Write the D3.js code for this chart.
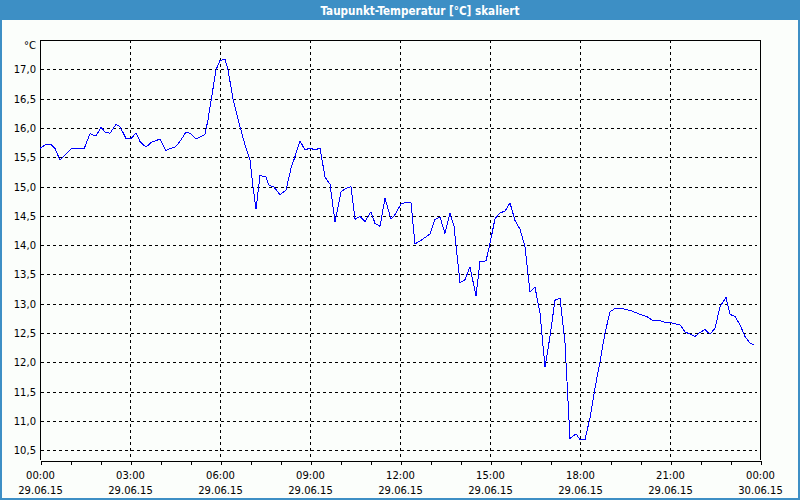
<!DOCTYPE html>
<html><head><meta charset="utf-8">
<script src="https://cdn.jsdelivr.net/npm/d3@7"></script>
<style>
html,body{margin:0;padding:0;background:#fbfefb;}
svg{display:block;}
</style></head>
<body>
<svg id="c" width="800" height="500"></svg>
<script>
const title = "Taupunkt-Temperatur [°C] skaliert";
const unitLabel = "°C";
// minutes after 29.06.15 00:00
const minutes = [0,12,22,30,40,50,62,70,88,100,112,122,130,140,152,160,172,182,192,200,212,222,240,252,260,270,280,292,300,312,330,336,352,360,370,376,386,400,410,420,426,432,440,452,458,468,480,492,502,510,520,530,540,550,560,570,580,590,602,610,622,630,640,650,662,670,680,690,702,710,722,732,742,750,760,770,780,790,800,810,820,828,840,850,860,872,880,892,900,910,920,930,940,950,960,970,980,990,1000,1010,1020,1030,1040,1050,1060,1072,1080,1090,1100,1110,1120,1130,1140,1150,1164,1182,1200,1214,1226,1238,1250,1264,1280,1290,1300,1310,1320,1330,1340,1350,1360,1372,1380,1390,1400,1410,1420,1428];
const values = [15.65,15.72,15.72,15.65,15.45,15.54,15.64,15.65,15.64,15.90,15.86,16.01,15.93,15.91,16.06,16.02,15.82,15.82,15.91,15.77,15.67,15.75,15.81,15.61,15.65,15.67,15.77,15.93,15.91,15.81,15.89,16.14,16.99,17.15,17.17,16.99,16.50,16.02,15.71,15.45,15.00,14.61,15.19,15.16,15.02,14.99,14.86,14.94,15.31,15.51,15.78,15.62,15.66,15.62,15.66,15.16,15.04,14.40,14.91,14.96,15.00,14.44,14.49,14.40,14.57,14.37,14.32,14.80,14.44,14.52,14.70,14.73,14.72,14.02,14.07,14.13,14.19,14.44,14.48,14.20,14.54,14.32,13.36,13.41,13.63,13.13,13.72,13.73,14.03,14.45,14.55,14.58,14.72,14.42,14.27,13.97,13.20,13.28,12.84,11.92,12.44,13.06,13.09,12.33,10.70,10.78,10.68,10.68,11.05,11.56,12.01,12.50,12.86,12.92,12.92,12.88,12.82,12.78,12.71,12.72,12.68,12.67,12.64,12.52,12.48,12.44,12.51,12.56,12.48,12.58,12.95,13.11,12.82,12.78,12.64,12.44,12.33,12.30];
const yTicks = [10.5,11.0,11.5,12.0,12.5,13.0,13.5,14.0,14.5,15.0,15.5,16.0,16.5,17.0];
const yDomain = [10.333, 17.5];

(function(){
const svg = d3.select("#c");
const W = 800, H = 500;
const pL = 40, pR = 760, pT = 40, pB = 460;
const font = "'DejaVu Sans', Verdana, sans-serif";

// window frame
svg.append("rect").attr("x",0).attr("y",0).attr("width",W).attr("height",H).attr("fill","#fbfefb");
svg.append("rect").attr("x",0).attr("y",0).attr("width",W).attr("height",20).attr("fill","#3d8fc5");
svg.append("rect").attr("x",0).attr("y",0).attr("width",2).attr("height",H).attr("fill","#3d8fc5");
svg.append("rect").attr("x",W-2).attr("y",0).attr("width",2).attr("height",H).attr("fill","#3d8fc5");
svg.append("rect").attr("x",0).attr("y",H-2).attr("width",W).attr("height",2).attr("fill","#3d8fc5");

const t = svg.append("text").attr("x",420).attr("y",15).attr("text-anchor","middle")
  .attr("fill","#ffffff").attr("font-family","'DejaVu Sans Condensed','Liberation Sans Narrow',sans-serif")
  .attr("font-weight","bold").attr("font-size","12px").text(title);
const tl = t.node().getComputedTextLength();
if (Math.abs(tl-199) > 4) t.attr("textLength",199).attr("lengthAdjust","spacingAndGlyphs");

const t0 = new Date(2015,5,29,0,0), t1 = new Date(2015,5,30,0,0);
const x = d3.scaleTime().domain([t0,t1]).range([pL,pR]);
const y = d3.scaleLinear().domain(yDomain).range([pB,pT]);

const data = minutes.map((m,i)=>({d:new Date(t0.getTime()+m*60000), v:values[i]}));

// grid
const g = svg.append("g").attr("shape-rendering","crispEdges");
const majors = x.ticks(d3.timeHour.every(3));
g.selectAll("line.vg").data(majors.filter(d=>+d!==+t0 && +d!==+t1)).join("line")
  .attr("x1",d=>Math.round(x(d))+0.5).attr("x2",d=>Math.round(x(d))+0.5)
  .attr("y1",pT).attr("y2",pB)
  .attr("stroke","#000").attr("stroke-dasharray","3,3");
g.selectAll("line.hg").data(yTicks).join("line")
  .attr("x1",pL+1).attr("x2",pR-3)
  .attr("y1",d=>Math.round(y(d))+0.5).attr("y2",d=>Math.round(y(d))+0.5)
  .attr("stroke","#000").attr("stroke-dasharray","3,3");

// frame of plot (top, left, right)
g.append("path").attr("d",`M${pL+0.5},${pB}V${pT+0.5}H${pR+0.5}V${pB}`)
  .attr("fill","none").attr("stroke","#000");

// x axis
const xa = svg.append("g").attr("transform",`translate(0.5,${pB+0.5})`)
  .call(d3.axisBottom(x).ticks(d3.timeHour.every(1)).tickSize(4).tickSizeOuter(0).tickFormat(""));
xa.select(".domain").attr("stroke","#000").attr("shape-rendering","crispEdges");
xa.selectAll(".tick line").attr("stroke","#000").attr("shape-rendering","crispEdges");

const fmtT = d3.timeFormat("%H:%M"), fmtD = d3.timeFormat("%d.%m.%y");
const lab = svg.append("g").attr("font-family",font).attr("font-size","10px").attr("fill","#000").attr("text-anchor","middle");
lab.selectAll("text.t").data(majors).join("text").attr("x",d=>x(d)+0.5).attr("y",479).text(fmtT);
lab.selectAll("text.d").data(majors).join("text").attr("x",d=>x(d)+0.5).attr("y",494).text(fmtD);

// y labels
const yl = svg.append("g").attr("font-family",font).attr("font-size","10px").attr("fill","#000").attr("text-anchor","end");
const fmtY = v => d3.format(".1f")(v).replace(".",",");
yl.selectAll("text").data(yTicks).join("text").attr("x",36).attr("y",d=>y(d)+4).text(fmtY);
yl.append("text").attr("x",36).attr("y",49).text(unitLabel);

// line
svg.append("path").datum(data)
  .attr("d", d3.line().x(d=>x(d.d)).y(d=>y(d.v)))
  .attr("fill","none").attr("stroke","#0000ff").attr("stroke-width",1)
  .attr("shape-rendering","crispEdges");
})();
</script>
</body></html>
